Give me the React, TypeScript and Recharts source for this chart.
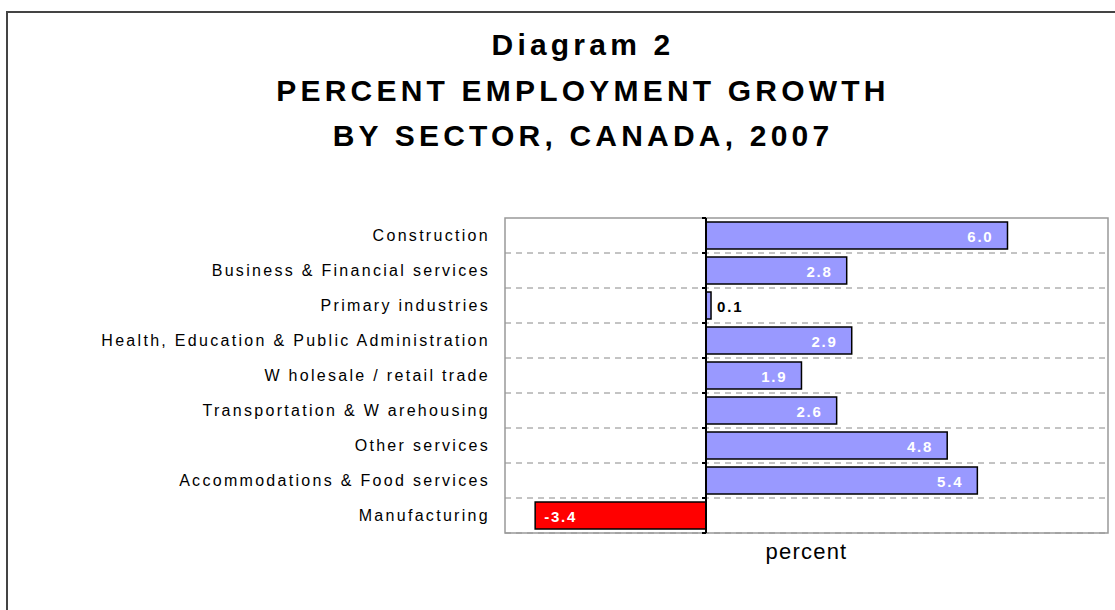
import React from 'react';
import { BarChart, Bar, XAxis, YAxis, CartesianGrid, ReferenceLine, ReferenceArea, LabelList, Cell } from 'recharts';

const sectors = [
  'Construction',
  'Business & Financial services',
  'Primary industries',
  'Health, Education & Public Administration',
  'W holesale / retail trade',
  'Transportation & W arehousing',
  'Other services',
  'Accommodations & Food services',
  'Manufacturing',
];

const growth = [6.0, 2.8, 0.1, 2.9, 1.9, 2.6, 4.8, 5.4, -3.4];

const xDomain = [-4, 8];

const data = sectors.map((name, i) => ({ name, value: growth[i] }));

const labelFont = '"Liberation Sans", Arial, sans-serif';

const CategoryTick = (props: any) => {
  const { y, payload } = props;
  return (
    <text x={490} y={y} dy={5} textAnchor="end" fontFamily={labelFont} fontSize={16} letterSpacing={2.3} fill="#000">
      {payload.value}
    </text>
  );
};

const ValueLabel = (props: any) => {
  const { x, y, width, height, value } = props;
  const left = Math.min(x, x + width);
  const right = Math.max(x, x + width);
  const cy = y + height / 2 + 6;
  let tx = right - 14;
  let anchor: 'start' | 'end' = 'end';
  let color = '#fff';
  if (value < 0) {
    tx = left + 9;
    anchor = 'start';
  } else if (value < 1) {
    tx = right + 6;
    anchor = 'start';
    color = '#000';
  }
  return (
    <text x={tx} y={cy} textAnchor={anchor} fontFamily={labelFont} fontSize={15} fontWeight="bold" letterSpacing={1.8} fill={color}>
      {value.toFixed(1)}
    </text>
  );
};

const ZeroLine = (props: any) => {
  const { x1, y1, y2 } = props;
  const n = sectors.length;
  const step = (y2 - y1) / n;
  return (
    <g>
      <line x1={x1} y1={y1} x2={x1} y2={y2} stroke="#000" strokeWidth={2} />
      {sectors.map((_, i) => (
        <line key={i} x1={x1 - 4} x2={x1} y1={y1 + step * i} y2={y1 + step * i} stroke="#000" strokeWidth={2} />
      ))}
      <line x1={x1 - 4} x2={x1} y1={y2} y2={y2} stroke="#000" strokeWidth={2} />
    </g>
  );
};

export default function App() {
  return (
    <div style={{ position: 'absolute', left: 0, top: 0, width: 1115, height: 610, background: '#fff', overflow: 'hidden' }}>
      <div style={{ position: 'absolute', left: 6, top: 11, width: 1130, height: 620, border: '2px solid #444' }} />
      <div
        style={{
          position: 'absolute',
          left: 0,
          top: 22,
          width: 1166,
          textAlign: 'center',
          fontFamily: labelFont,
          fontWeight: 'bold',
          fontSize: 30,
          lineHeight: '45.5px',
          letterSpacing: 4.2,
          color: '#000',
        }}
      >
        <div>Diagram 2</div>
        <div>PERCENT EMPLOYMENT GROWTH</div>
        <div>BY SECTOR, CANADA, 2007</div>
      </div>
      <div
        style={{
          position: 'absolute',
          left: 505,
          top: 539,
          width: 603,
          textAlign: 'center',
          fontFamily: labelFont,
          fontSize: 22,
          letterSpacing: 1.2,
          color: '#000',
        }}
      >
        percent
      </div>
      <div style={{ position: 'absolute', left: 0, top: 0 }}>
        <BarChart
          width={1115}
          height={610}
          data={data}
          layout="vertical"
          margin={{ top: 218, right: 7, bottom: 77, left: 0 }}
        >
          <CartesianGrid
            vertical={false}
            stroke="#888"
            strokeDasharray="6 5"
            horizontalCoordinatesGenerator={({ offset }: any) =>
              sectors.map((_, i) => offset.top + (offset.height / sectors.length) * (i + 1))
            }
          />
          <ReferenceArea x1={xDomain[0]} x2={xDomain[1]} fill="none" stroke="#999" strokeWidth={1.5} ifOverflow="extendDomain" />
          <XAxis type="number" domain={xDomain} hide />
          <YAxis
            type="category"
            dataKey="name"
            width={505}
            axisLine={false}
            tickLine={false}
            tick={<CategoryTick />}
            interval={0}
          />
          <Bar dataKey="value" barSize={27} stroke="#000" strokeWidth={1.5} isAnimationActive={false}>
            {data.map((d, i) => (
              <Cell key={i} fill={d.value < 0 ? '#ff0000' : '#9999ff'} />
            ))}
            <LabelList dataKey="value" content={<ValueLabel />} />
          </Bar>
          <ReferenceLine x={0} shape={<ZeroLine />} />
        </BarChart>
      </div>
    </div>
  );
}
